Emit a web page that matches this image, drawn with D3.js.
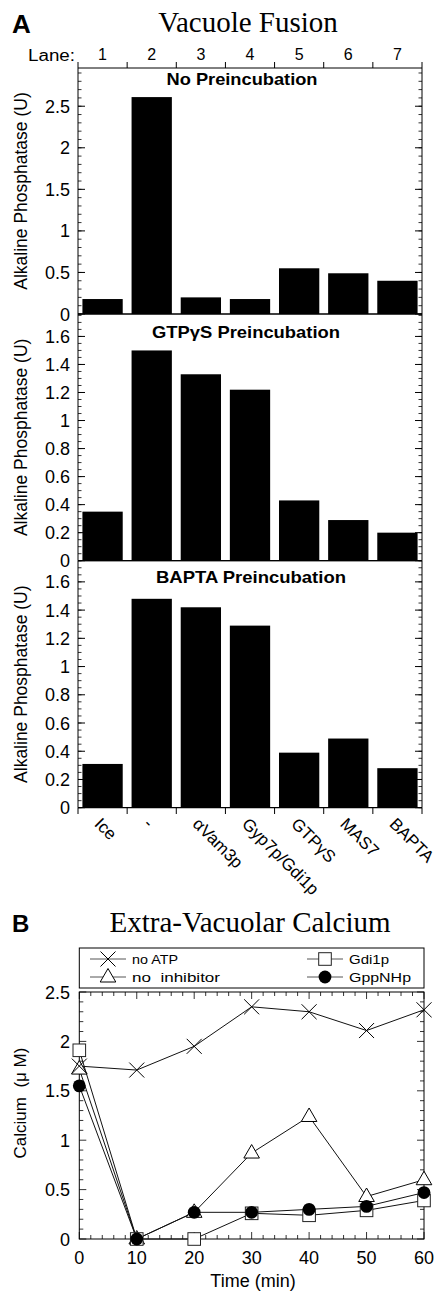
<!DOCTYPE html>
<html lang="en">
<head>
<meta charset="UTF-8">
<title>Vacuole Fusion / Extra-Vacuolar Calcium</title>
<script src="https://d3js.org/d3.v7.min.js"></script>
<style>
  body { margin: 0; background: #fff; }
  svg { display: block; }
  text { font-family: "Liberation Sans", Arial, sans-serif; fill: #000; }
  .serif { font-family: "Liberation Serif", "Times New Roman", serif; }
</style>
</head>
<body>
<div id="chart"></div>
<script>
// ---- data: panel A (bar charts) ----
const lanes = [1, 2, 3, 4, 5, 6, 7];
const treatments = ["Ice", "-", "\u03b1Vam3p", "Gyp7p/Gdi1p", "GTP\u03b3S", "MAS7", "BAPTA"];
const panelTitles = ["No Preincubation", "GTP\u03b3S Preincubation", "BAPTA Preincubation"];
const noPreincubation = [0.18, 2.61, 0.20, 0.18, 0.55, 0.49, 0.40];
const gtpPreincubation = [0.35, 1.50, 1.33, 1.22, 0.43, 0.29, 0.20];
const baptaPreincubation = [0.31, 1.48, 1.42, 1.29, 0.39, 0.49, 0.28];
const panelMax = [2.96, 1.76, 1.75];
const panelTicks = [
  [0, 0.5, 1, 1.5, 2, 2.5],
  [0, 0.2, 0.4, 0.6, 0.8, 1, 1.2, 1.4, 1.6],
  [0, 0.2, 0.4, 0.6, 0.8, 1, 1.2, 1.4, 1.6]
];
const panelMinorStep = [0.1, 0.05, 0.05];

// ---- data: panel B (calcium time course) ----
const times = [0, 10, 20, 30, 40, 50, 60];
const noATP = [1.75, 1.71, 1.95, 2.35, 2.30, 2.11, 2.32];
const noInhibitor = [1.72, 0, 0.27, 0.87, 1.24, 0.43, 0.60];
const gdi1p = [1.91, 0, 0, 0.26, 0.24, 0.29, 0.39];
const gppNHp = [1.55, 0, 0.27, 0.27, 0.30, 0.33, 0.47];
const calciumTicks = [0, 0.5, 1, 1.5, 2, 2.5];
const timeTicks = [0, 10, 20, 30, 40, 50, 60];

const W = 437, H = 1292;
const svg = d3.select("#chart").append("svg")
  .attr("width", W).attr("height", H);

// ================= Panel A =================
const left = 78, right = 422;
const panelTop = [68, 314, 560.7];
const panelBottom = [314, 560.7, 807.7];
const panelData = [noPreincubation, gtpPreincubation, baptaPreincubation];
const titleY = [85, 338, 583];
const titleX = [242, 246, 251];
const titleLen = [151, 188, 190];

const x = d3.scaleBand().domain(lanes).range([left, right])
  .paddingInner(0.18).paddingOuter(0.09);
const step = x.step();
const laneEdges = d3.range(lanes.length + 1).map(i => left + i * step);

svg.append("text").attr("x", 12).attr("y", 33)
  .style("font-size", "26px").style("font-weight", "bold").text("A");
svg.append("text").attr("class", "serif").attr("x", 248).attr("y", 32)
  .attr("text-anchor", "middle").style("font-size", "29px").text("Vacuole Fusion");

// lane numbers on top
svg.append("text").attr("x", 75).attr("y", 61).attr("text-anchor", "end")
  .attr("textLength", 47).attr("lengthAdjust", "spacingAndGlyphs")
  .style("font-size", "16px").text("Lane:");
svg.selectAll(".lane-num").data(lanes).enter().append("text")
  .attr("class", "lane-num")
  .attr("x", d => x(d) + x.bandwidth() / 2).attr("y", 60)
  .attr("text-anchor", "middle").style("font-size", "16px")
  .text(d => d);
svg.selectAll(".lane-tick").data(laneEdges).enter().append("line")
  .attr("x1", d => d).attr("x2", d => d).attr("y1", 68).attr("y2", 62)
  .attr("stroke", "#000").attr("stroke-width", 1);

panelData.forEach((vals, p) => {
  const y = d3.scaleLinear().domain([0, panelMax[p]]).range([panelBottom[p], panelTop[p]]);
  const g = svg.append("g");

  // bars
  g.selectAll("rect").data(vals).enter().append("rect")
    .attr("x", (d, i) => x(lanes[i]))
    .attr("width", x.bandwidth())
    .attr("y", d => y(d))
    .attr("height", d => y(0) - y(d))
    .attr("fill", "#000");

  // frame
  g.append("line").attr("x1", left).attr("x2", right)
    .attr("y1", y(0)).attr("y2", y(0)).attr("stroke", "#000").attr("stroke-width", 1.2);
  g.append("line").attr("x1", left).attr("x2", right)
    .attr("y1", panelTop[p]).attr("y2", panelTop[p]).attr("stroke", "#000").attr("stroke-width", 1);
  g.append("line").attr("x1", left).attr("x2", left)
    .attr("y1", panelTop[p]).attr("y2", panelBottom[p]).attr("stroke", "#000");
  g.append("line").attr("x1", right).attr("x2", right)
    .attr("y1", panelTop[p]).attr("y2", panelBottom[p]).attr("stroke", "#000");

  // ticks, inward on both sides
  const minor = d3.range(0, panelMax[p] + 1e-9, panelMinorStep[p]);
  const major = panelTicks[p];
  const tickSide = (x0, dir) => {
    g.selectAll(null).data(minor).enter().append("line")
      .attr("x1", x0).attr("x2", x0 + dir * 3.5)
      .attr("y1", d => y(d)).attr("y2", d => y(d))
      .attr("stroke", "#000").attr("stroke-width", 0.8);
    g.selectAll(null).data(major).enter().append("line")
      .attr("x1", x0).attr("x2", x0 + dir * 7)
      .attr("y1", d => y(d)).attr("y2", d => y(d))
      .attr("stroke", "#000").attr("stroke-width", 1);
  };
  tickSide(left, 1);
  tickSide(right, -1);

  g.selectAll(".ytl").data(major).enter().append("text")
    .attr("x", 70).attr("y", d => y(d) + 6.5)
    .attr("text-anchor", "end").style("font-size", "18px")
    .text(d => d);

  // y label
  const cy = (panelTop[p] + panelBottom[p]) / 2;
  g.append("text")
    .attr("transform", `translate(27,${cy}) rotate(-90)`)
    .attr("text-anchor", "middle").style("font-size", "17.5px")
    .text("Alkaline Phosphatase (U)");

  // panel title
  g.append("text").attr("x", titleX[p]).attr("y", titleY[p])
    .attr("text-anchor", "middle")
    .attr("textLength", titleLen[p]).attr("lengthAdjust", "spacingAndGlyphs")
    .style("font-size", "16.5px").style("font-weight", "bold")
    .text(panelTitles[p]);
});

// bottom lane ticks and rotated treatment labels
svg.selectAll(".bot-tick").data(laneEdges).enter().append("line")
  .attr("x1", d => d).attr("x2", d => d).attr("y1", 807.7).attr("y2", 814)
  .attr("stroke", "#000");
svg.selectAll(".treat").data(treatments).enter().append("text")
  .attr("transform", (d, i) => `translate(${x(lanes[i]) + x.bandwidth() / 2 - 9},825) rotate(45)`)
  .style("font-size", "17px")
  .text(d => d);

// ================= Panel B =================
const bTop = 992, bBottom = 1239, bLeft = 79.3, bRight = 424;
const tx = d3.scaleLinear().domain([0, 60]).range([bLeft, bRight]);
const cy = d3.scaleLinear().domain([0, 2.5]).range([bBottom, bTop]);

svg.append("text").attr("x", 12).attr("y", 932)
  .style("font-size", "24px").style("font-weight", "bold").text("B");
svg.append("text").attr("class", "serif").attr("x", 250).attr("y", 932)
  .attr("text-anchor", "middle").style("font-size", "29px")
  .text("Extra-Vacuolar Calcium");

const gb = svg.append("g");
// frame
gb.append("rect").attr("x", bLeft).attr("y", bTop)
  .attr("width", bRight - bLeft).attr("height", bBottom - bTop)
  .attr("fill", "none").attr("stroke", "#000").attr("stroke-width", 1);

// x ticks (bottom up, top down)
const tMinor = d3.range(0, 60.01, 2);
[[bBottom, -1], [bTop, 1]].forEach(([y0, dir]) => {
  gb.selectAll(null).data(tMinor).enter().append("line")
    .attr("x1", d => tx(d)).attr("x2", d => tx(d))
    .attr("y1", y0).attr("y2", d => y0 + dir * (d % 10 === 0 ? 7 : 4))
    .attr("stroke", "#000").attr("stroke-width", 0.8);
});
// y ticks (left right, right left)
const cMinor = d3.range(0, 2.501, 0.1);
[[bLeft, 1], [bRight, -1]].forEach(([x0, dir]) => {
  gb.selectAll(null).data(cMinor).enter().append("line")
    .attr("x1", x0).attr("x2", (d, i) => x0 + dir * (i % 5 === 0 ? 7 : 4))
    .attr("y1", d => cy(d)).attr("y2", d => cy(d))
    .attr("stroke", "#000").attr("stroke-width", 0.8);
});

gb.selectAll(".xtl").data(timeTicks).enter().append("text")
  .attr("x", d => tx(d)).attr("y", 1264)
  .attr("text-anchor", "middle").style("font-size", "18px").text(d => d);
gb.selectAll(".ytlb").data(calciumTicks).enter().append("text")
  .attr("x", 70).attr("y", d => cy(d) + 6.5)
  .attr("text-anchor", "end").style("font-size", "18px").text(d => d);
gb.append("text").attr("x", 253).attr("y", 1287)
  .attr("text-anchor", "middle").style("font-size", "18px").text("Time (min)");
gb.append("text")
  .attr("transform", "translate(26,1103) rotate(-90)")
  .attr("text-anchor", "middle").style("font-size", "17px")
  .attr("xml:space", "preserve")
  .text("Calcium  (\u03bc M)");

// marker drawing
function drawMarker(sel, type) {
  if (type === "x") {
    sel.append("path").attr("d", "M-7.5,-7.5L7.5,7.5M-7.5,7.5L7.5,-7.5")
      .attr("stroke", "#000").attr("stroke-width", 1).attr("fill", "none");
  } else if (type === "tri") {
    sel.append("path").attr("d", "M0,-8.5L7.8,5L-7.8,5Z")
      .attr("stroke", "#000").attr("stroke-width", 1).attr("fill", "#fff");
  } else if (type === "sq") {
    sel.append("rect").attr("x", -6.3).attr("y", -6.3).attr("width", 12.6).attr("height", 12.6)
      .attr("stroke", "#222").attr("stroke-width", 1).attr("fill", "#fff");
  } else {
    sel.append("circle").attr("r", 6.4).attr("fill", "#000");
  }
}

const series = [
  { name: "no inhibitor", values: noInhibitor, marker: "tri" },
  { name: "Gdi1p", values: gdi1p, marker: "sq" },
  { name: "no ATP", values: noATP, marker: "x" },
  { name: "GppNHp", values: gppNHp, marker: "circle" }
];
const line = d3.line().x((d, i) => tx(times[i])).y(d => cy(d));

series.forEach(s => {
  gb.append("path").datum(s.values).attr("d", line)
    .attr("fill", "none").attr("stroke", "#111").attr("stroke-width", 1);
});
series.forEach(s => {
  s.values.forEach((v, i) => {
    const m = gb.append("g").attr("transform", `translate(${tx(times[i])},${cy(v)})`);
    drawMarker(m, s.marker);
  });
});

// legend
const lg = svg.append("g");
lg.append("rect").attr("x", bLeft).attr("y", 948)
  .attr("width", bRight - bLeft).attr("height", 40)
  .attr("fill", "#fff").attr("stroke", "#000").attr("stroke-width", 1);
const legendItems = [
  { name: "no ATP", marker: "x", lx: 90, ly: 959 },
  { name: "no  inhibitor", marker: "tri", lx: 90, ly: 977 },
  { name: "Gdi1p", marker: "sq", lx: 307, ly: 959 },
  { name: "GppNHp", marker: "circle", lx: 307, ly: 977 }
];
const legendLen = { "no ATP": 46, "no  inhibitor": 88, "Gdi1p": 40, "GppNHp": 62 };
legendItems.forEach(it => {
  lg.append("line").attr("x1", it.lx).attr("x2", it.lx + 36)
    .attr("y1", it.ly).attr("y2", it.ly).attr("stroke", "#555").attr("stroke-width", 1);
  const m = lg.append("g").attr("transform", `translate(${it.lx + 18},${it.ly})`);
  drawMarker(m, it.marker);
  lg.append("text").attr("x", it.lx + 42).attr("y", it.ly + 4.5)
    .attr("textLength", legendLen[it.name]).attr("lengthAdjust", "spacingAndGlyphs")
    .style("font-size", "12.5px").attr("xml:space", "preserve")
    .text(it.name);
});
</script>
</body>
</html>
